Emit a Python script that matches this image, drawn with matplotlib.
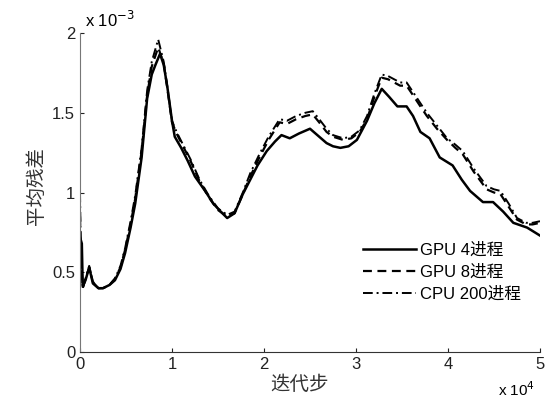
import matplotlib
matplotlib.use("Agg")
import matplotlib.pyplot as plt

plt.rcParams["font.family"] = ["Liberation Sans", "Noto Sans CJK SC"]

# iteration step (x 1e4) and mean residual (x 1e-3)
x_gpu4 = [0, 0.02, 0.03, 0.06, 0.10, 0.14, 0.20, 0.25, 0.32, 0.38, 0.44, 0.49,
          0.55, 0.60, 0.67, 0.73, 0.78, 0.82, 0.87, 0.91, 0.95, 1.0, 1.03, 1.10,
          1.17, 1.25, 1.36, 1.45, 1.53, 1.60, 1.68, 1.77, 1.85, 1.93, 2.03, 2.12,
          2.19, 2.28, 2.38, 2.50, 2.58, 2.68, 2.75, 2.83, 2.92, 3.01, 3.12, 3.20,
          3.28, 3.36, 3.45, 3.55, 3.62, 3.70, 3.80, 3.91, 4.05, 4.15, 4.24, 4.38,
          4.49, 4.60, 4.71, 4.86, 5.0]
y_gpu4 = [0.72, 0.68, 0.41, 0.45, 0.53, 0.43, 0.40, 0.40, 0.42, 0.45, 0.52, 0.62,
          0.78, 0.93, 1.22, 1.59, 1.74, 1.80, 1.87, 1.80, 1.66, 1.45, 1.35, 1.28,
          1.20, 1.10, 1.01, 0.93, 0.88, 0.84, 0.87, 0.99, 1.08, 1.17, 1.26, 1.32,
          1.36, 1.34, 1.37, 1.40, 1.36, 1.31, 1.29, 1.28, 1.29, 1.33, 1.45, 1.56,
          1.65, 1.60, 1.54, 1.54, 1.48, 1.38, 1.34, 1.22, 1.17, 1.08, 1.01, 0.94,
          0.94, 0.88, 0.81, 0.78, 0.73]

x_cmp = [0, 0.01, 0.03, 0.06, 0.10, 0.14, 0.20, 0.25, 0.32, 0.38, 0.44, 0.49,
         0.55, 0.60, 0.67, 0.73, 0.78, 0.85, 0.91, 0.95, 1.0, 1.05, 1.12, 1.20,
         1.30, 1.40, 1.50, 1.60, 1.68, 1.77, 1.85, 1.95, 2.05, 2.17, 2.25, 2.35,
         2.45, 2.53, 2.60, 2.68, 2.75, 2.86, 2.95, 3.04, 3.12, 3.20, 3.28, 3.35,
         3.48, 3.55, 3.62, 3.70, 3.77, 3.88, 3.99, 4.08, 4.16, 4.28, 4.42, 4.50,
         4.57, 4.66, 4.75, 4.85, 4.92, 5.0]
y_gpu8 = [0.85, 0.6, 0.40, 0.46, 0.53, 0.44, 0.40, 0.40, 0.42, 0.46, 0.53, 0.64,
          0.80, 0.96, 1.26, 1.61, 1.79, 1.91, 1.81, 1.65, 1.44, 1.37, 1.29, 1.20,
          1.07, 0.97, 0.89, 0.85, 0.87, 0.99, 1.10, 1.22, 1.33, 1.44, 1.43, 1.46,
          1.48, 1.49, 1.44, 1.38, 1.35, 1.33, 1.34, 1.38, 1.46, 1.60, 1.72, 1.71,
          1.67, 1.67, 1.61, 1.54, 1.48, 1.40, 1.33, 1.28, 1.24, 1.13, 1.02, 1.00,
          0.99, 0.91, 0.83, 0.80, 0.80, 0.81]
y_cpu200 = [1.0, 0.6, 0.40, 0.46, 0.54, 0.44, 0.40, 0.40, 0.42, 0.46, 0.54, 0.65,
            0.82, 0.98, 1.28, 1.64, 1.82, 1.96, 1.82, 1.66, 1.45, 1.38, 1.30, 1.21,
            1.08, 0.98, 0.90, 0.86, 0.88, 1.00, 1.12, 1.24, 1.35, 1.46, 1.45, 1.48,
            1.50, 1.51, 1.46, 1.40, 1.36, 1.34, 1.35, 1.39, 1.48, 1.62, 1.74, 1.73,
            1.69, 1.69, 1.63, 1.56, 1.50, 1.42, 1.34, 1.30, 1.26, 1.15, 1.04, 1.02,
            1.01, 0.93, 0.84, 0.81, 0.81, 0.82]

labels = ["GPU 4进程", "GPU 8进程", "CPU 200进程"]
xticks = [0, 1, 2, 3, 4, 5]
yticks = [0, 0.5, 1, 1.5, 2]

fig = plt.figure(figsize=(5.46, 4.03), dpi=100)
ax = fig.add_axes([0.1465, 0.1266, 0.8425, 0.7914])

ax.plot(x_gpu4, y_gpu4, color="black", lw=1.8, label=labels[0])
ax.plot(x_cmp, y_gpu8, color="black", lw=1.6, ls=(0, (4, 2.5)), label=labels[1])
ax.plot(x_cmp, y_cpu200, color="black", lw=1.4, ls=(0, (5, 2, 1, 2)), label=labels[2])

ax.set_xlim(0, 5)
ax.set_ylim(0, 2)
ax.set_xticks(xticks)
ax.set_yticks(yticks)
ax.set_xticklabels([f"{v:g}" for v in xticks])
ax.set_yticklabels([f"{v:g}" for v in yticks])
ax.tick_params(direction="in", length=3, labelsize=12, colors="#222222")
for s in ["top", "right"]:
    ax.spines[s].set_visible(False)
ax.spines["left"].set_color("#777777")
ax.spines["bottom"].set_color("#333333")

ax.set_xlabel("迭代步", fontsize=14, color="#333333", labelpad=3)
ax.xaxis.set_label_coords(0.478, -0.075)
ax.set_ylabel("平均残差", fontsize=14, color="#333333")
ax.yaxis.set_label_coords(-0.075, 0.52)

ax.text(0.01, 1.01, r"x 10$^{-3}$", transform=ax.transAxes, fontsize=12,
        ha="left", va="bottom")
ax.text(0.99, -0.148, r"x 10$^{4}$", transform=ax.transAxes, fontsize=11,
        ha="right", va="bottom")

ax.legend(loc="lower left", bbox_to_anchor=(0.59, 0.12), frameon=False,
          fontsize=12, handlelength=3.2, handletextpad=0.2, labelspacing=0.4,
          borderpad=0.2)

fig.savefig("out.png", dpi=100)
